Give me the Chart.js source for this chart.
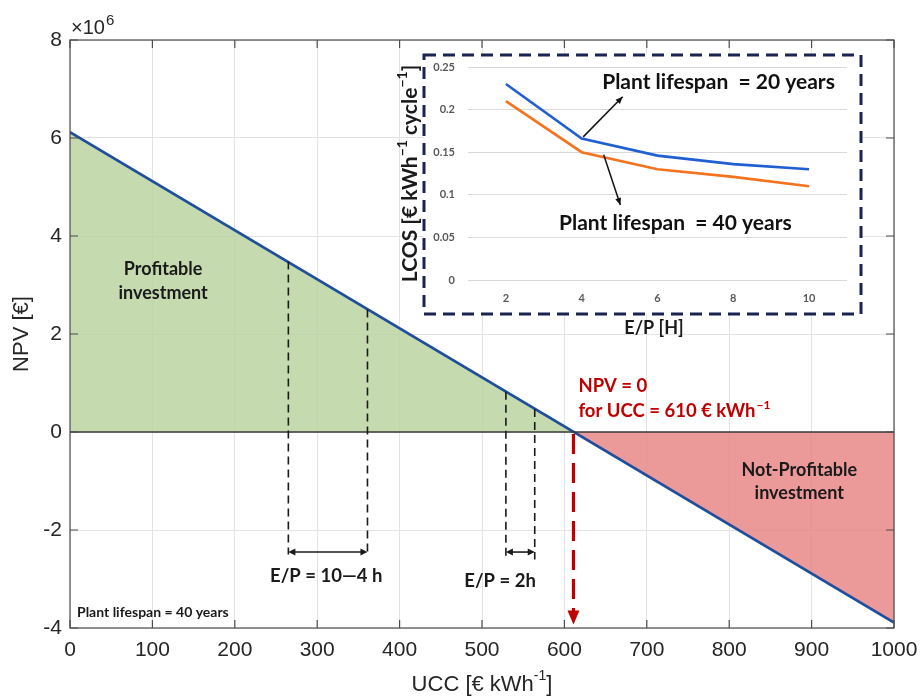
<!DOCTYPE html>
<html>
<head>
<meta charset="utf-8">
<script src="https://cdn.jsdelivr.net/npm/chart.js@4.4.0/dist/chart.umd.min.js"></script>
<style>
  body { margin: 0; background: #fff; }
  #wrap { position: relative; width: 921px; height: 700px; }
  #main { position: absolute; left: 0; top: 0; }
  #inset { position: absolute; left: 395px; top: 50px; }
</style>
</head>
<body>
<div id="wrap">
  <canvas id="main" width="921" height="700"></canvas>
  <canvas id="inset" width="475" height="290"></canvas>
</div>
<script>
// Main chart: NPV (x10^6 €) against UCC (€/kWh)
var ucc = [0, 1000];
var npv = [6.12, -3.89];
var xTicksMain = [0, 100, 200, 300, 400, 500, 600, 700, 800, 900, 1000];
var yTicksMain = [-4, -2, 0, 2, 4, 6, 8];

// dashed guides for the E/P ranges
var guideUcc = [265, 361, 529, 564];
var guideTop = [3.48, 2.50, 0.82, 0.47];
var guideBottom = [-2.5, -2.5, -2.6, -2.6];
var arrowNpv = -2.45;
var breakEvenUcc = 611;
var breakEvenArrowEnd = -3.93;

// Inset: LCOS (€/kWh/cycle) against E/P (h)
var epLabels = ['2', '4', '6', '8', '10'];
var lcos20 = [0.23, 0.166, 0.146, 0.136, 0.13];
var lcos40 = [0.21, 0.15, 0.13, 0.121, 0.11];
var yTicksInset = [0, 0.05, 0.1, 0.15, 0.2, 0.25];

var ANN = 'Lato, "Open Sans", sans-serif';
var AX = '"Liberation Sans", Arial, sans-serif';

// text with superscript pieces, segs = [[text, isSup], ...]
function richText(c, segs, x, y, size, family, weight, color) {
  var w = 0, i;
  for (i = 0; i < segs.length; i++) {
    c.font = weight + ' ' + (segs[i][1] ? Math.round(size * 0.65) : size) + 'px ' + family;
    w += c.measureText(segs[i][0]).width;
  }
  var cx = x - w / 2;
  c.fillStyle = color;
  c.textAlign = 'left';
  c.textBaseline = 'middle';
  for (i = 0; i < segs.length; i++) {
    var sup = segs[i][1];
    c.font = weight + ' ' + (sup ? Math.round(size * 0.65) : size) + 'px ' + family;
    c.fillText(segs[i][0], cx, sup ? y - size * 0.38 : y);
    cx += c.measureText(segs[i][0]).width;
  }
}

function arrowHead(c, x1, y1, x2, y2, len, wid) {
  var ang = Math.atan2(y2 - y1, x2 - x1);
  c.beginPath();
  c.moveTo(x2, y2);
  c.lineTo(x2 - len * Math.cos(ang) + wid * Math.sin(ang), y2 - len * Math.sin(ang) - wid * Math.cos(ang));
  c.lineTo(x2 - len * Math.cos(ang) - wid * Math.sin(ang), y2 - len * Math.sin(ang) + wid * Math.cos(ang));
  c.closePath();
  c.fill();
}

var mainDeco = {
  id: 'mainDeco',
  afterDatasetsDraw: function(chart) {
    var c = chart.ctx, a = chart.chartArea, xs = chart.scales.x, ys = chart.scales.y;
    var i, px, y0 = ys.getPixelForValue(0);
    c.save();

    // zero line
    c.strokeStyle = '#3a3a3a';
    c.lineWidth = 1.3;
    c.beginPath(); c.moveTo(a.left, y0); c.lineTo(a.right, y0); c.stroke();

    // dashed guides
    c.strokeStyle = '#1a1a1a';
    c.lineWidth = 1.6;
    c.setLineDash([8, 5]);
    for (i = 0; i < guideUcc.length; i++) {
      px = xs.getPixelForValue(guideUcc[i]);
      c.beginPath();
      c.moveTo(px, ys.getPixelForValue(guideTop[i]));
      c.lineTo(px, ys.getPixelForValue(guideBottom[i]));
      c.stroke();
    }
    c.setLineDash([]);

    // double arrows between guide pairs
    c.fillStyle = '#1a1a1a';
    c.lineWidth = 1.6;
    var ya = ys.getPixelForValue(arrowNpv);
    for (i = 0; i < guideUcc.length; i += 2) {
      var xa = xs.getPixelForValue(guideUcc[i]), xb = xs.getPixelForValue(guideUcc[i + 1]);
      c.beginPath(); c.moveTo(xa + 4, ya); c.lineTo(xb - 4, ya); c.stroke();
      arrowHead(c, xb, ya, xa, ya, 7, 3.5);
      arrowHead(c, xa, ya, xb, ya, 7, 3.5);
    }

    // break-even arrow
    var xr = xs.getPixelForValue(breakEvenUcc), yr = ys.getPixelForValue(breakEvenArrowEnd);
    c.strokeStyle = '#c00000';
    c.fillStyle = '#c00000';
    c.lineWidth = 3.2;
    c.setLineDash([20, 9]);
    c.beginPath(); c.moveTo(xr, y0 + 2); c.lineTo(xr, yr - 12); c.stroke();
    c.setLineDash([]);
    arrowHead(c, xr, y0, xr, yr, 14, 6);

    // annotation texts
    c.textAlign = 'center';
    c.textBaseline = 'middle';
    c.fillStyle = '#1a1a1a';
    c.font = 'bold 18px ' + ANN;
    c.fillText('Profitable', xs.getPixelForValue(113), ys.getPixelForValue(3.33));
    c.fillText('investment', xs.getPixelForValue(113), ys.getPixelForValue(2.84));
    c.fillText('Not-Profitable', xs.getPixelForValue(885), ys.getPixelForValue(-0.78));
    c.fillText('investment', xs.getPixelForValue(885), ys.getPixelForValue(-1.24));
    c.font = 'bold 18.5px ' + ANN;
    c.fillText('E/P = 10\u20144 h', xs.getPixelForValue(311), ys.getPixelForValue(-2.94));
    c.fillText('E/P = 2h', xs.getPixelForValue(522), ys.getPixelForValue(-3.04));
    c.textAlign = 'left';
    c.font = 'bold 14px ' + ANN;
    c.fillText('Plant lifespan = 40 years', a.left + 7, ys.getPixelForValue(-3.68));

    c.fillStyle = '#c00000';
    c.font = 'bold 18.5px ' + ANN;
    c.fillText('NPV = 0', xs.getPixelForValue(617), ys.getPixelForValue(0.94));
    var tx = xs.getPixelForValue(617), ty = ys.getPixelForValue(0.43);
    var base = 'for UCC = 610 \u20ac kWh';
    c.fillText(base, tx, ty);
    var bw = c.measureText(base).width;
    c.font = 'bold 12px ' + ANN;
    c.fillText('\u22121', tx + bw + 1, ty - 6);

    // axes box with inward ticks
    c.strokeStyle = '#4d4d4d';
    c.lineWidth = 1.2;
    c.strokeRect(a.left, a.top, a.right - a.left, a.bottom - a.top);
    c.beginPath();
    for (i = 0; i < xTicksMain.length; i++) {
      px = xs.getPixelForValue(xTicksMain[i]);
      c.moveTo(px, a.bottom); c.lineTo(px, a.bottom - 8);
      c.moveTo(px, a.top); c.lineTo(px, a.top + 8);
    }
    for (i = 0; i < yTicksMain.length; i++) {
      px = ys.getPixelForValue(yTicksMain[i]);
      c.moveTo(a.left, px); c.lineTo(a.left + 8, px);
      c.moveTo(a.right, px); c.lineTo(a.right - 8, px);
    }
    c.stroke();

    // axis titles and exponent
    richText(c, [['UCC [\u20ac kWh', false], ['-1', true], [']', false]], (a.left + a.right) / 2, 685, 22, AX, 'normal', '#262626');
    c.save();
    c.translate(22, (a.top + a.bottom) / 2);
    c.rotate(-Math.PI / 2);
    richText(c, [['NPV [\u20ac]', false]], 0, 0, 22, AX, 'normal', '#262626');
    c.restore();
    c.fillStyle = '#262626';
    c.textAlign = 'left';
    c.textBaseline = 'alphabetic';
    c.font = '20px ' + AX;
    c.fillText('\u00d710', a.left + 1, 34);
    var ew = c.measureText('\u00d710').width;
    c.font = '15px ' + AX;
    c.fillText('6', a.left + 2 + ew, 25);
    c.restore();
  }
};

new Chart(document.getElementById('main'), {
  type: 'line',
  data: {
    datasets: [{
      data: ucc.map(function(u, i) { return { x: u, y: npv[i] }; }),
      borderColor: '#1f4e9c',
      borderWidth: 2.6,
      pointRadius: 0,
      fill: { target: 'origin', above: 'rgba(182,209,155,0.8)', below: 'rgba(230,128,128,0.8)' }
    }]
  },
  options: {
    responsive: false,
    animation: false,
    layout: { padding: { top: 40, right: 27, left: 0, bottom: 0 } },
    plugins: { legend: { display: false }, tooltip: { enabled: false } },
    scales: {
      x: {
        type: 'linear', min: 0, max: 1000,
        afterBuildTicks: function(s) { s.ticks = xTicksMain.map(function(v) { return { value: v }; }); },
        afterFit: function(s) { s.height = 72; s.paddingLeft = 0; s.paddingRight = 0; },
        grid: { color: '#e3e3e3', drawTicks: false },
        border: { display: false },
        ticks: { padding: 10, color: '#262626', font: { family: AX, size: 21 }, callback: function(v) { return String(v); } }
      },
      y: {
        type: 'linear', min: -4, max: 8,
        afterBuildTicks: function(s) { s.ticks = yTicksMain.map(function(v) { return { value: v }; }); },
        afterFit: function(s) { s.width = 70; s.paddingTop = 0; s.paddingBottom = 0; },
        grid: { color: '#e3e3e3', drawTicks: false },
        border: { display: false },
        ticks: { padding: 8, color: '#262626', font: { family: AX, size: 21 }, callback: function(v) { return String(v); } }
      }
    }
  },
  plugins: [mainDeco]
});

// inset frame, relative to the inset canvas
var frame = { left: 29, top: 5, right: 466, bottom: 264 };

var insetDeco = {
  id: 'insetDeco',
  beforeDraw: function(chart) {
    var c = chart.ctx;
    c.save();
    c.fillStyle = '#ffffff';
    c.fillRect(frame.left, frame.top, frame.right - frame.left, frame.bottom - frame.top);
    c.restore();
  },
  afterDraw: function(chart) {
    var c = chart.ctx, a = chart.chartArea, xs = chart.scales.x, ys = chart.scales.y;
    c.save();
    c.strokeStyle = '#1b2350';
    c.lineWidth = 3;
    c.setLineDash([12, 7]);
    c.strokeRect(frame.left, frame.top, frame.right - frame.left, frame.bottom - frame.top);
    c.setLineDash([]);

    // series labels and pointers
    c.fillStyle = '#111';
    c.strokeStyle = '#111';
    c.lineWidth = 1.5;
    c.font = 'bold 21px ' + ANN;
    c.textAlign = 'left';
    c.textBaseline = 'middle';
    c.fillText('Plant lifespan  = 20 years', xs.getPixelForValue(1.27), ys.getPixelForValue(0.232));
    c.fillText('Plant lifespan  = 40 years', xs.getPixelForValue(0.70), ys.getPixelForValue(0.067));
    var p = [[1.02, 0.168, 1.54, 0.215], [1.29, 0.147, 1.51, 0.088]];
    for (var i = 0; i < p.length; i++) {
      var x1 = xs.getPixelForValue(p[i][0]), y1 = ys.getPixelForValue(p[i][1]);
      var x2 = xs.getPixelForValue(p[i][2]), y2 = ys.getPixelForValue(p[i][3]);
      c.beginPath(); c.moveTo(x1, y1); c.lineTo(x2, y2); c.stroke();
      arrowHead(c, x1, y1, x2, y2, 7, 3);
    }

    // axis titles
    richText(c, [['E/P [H]', false]], 259, 278, 18, ANN, 'bold', '#1a1a1a');
    c.translate(15, (a.top + a.bottom) / 2);
    c.rotate(-Math.PI / 2);
    richText(c, [['LCOS [\u20ac kWh', false], ['\u22121', true], [' cycle', false], ['\u22121', true], [']', false]], 0, 0, 21, ANN, 'bold', '#1a1a1a');
    c.restore();
  }
};

new Chart(document.getElementById('inset'), {
  type: 'line',
  data: {
    labels: epLabels,
    datasets: [
      { data: lcos20, borderColor: '#1f5fd1', borderWidth: 2.6, pointRadius: 0, tension: 0 },
      { data: lcos40, borderColor: '#f5731f', borderWidth: 2.6, pointRadius: 0, tension: 0 }
    ]
  },
  options: {
    responsive: false,
    animation: false,
    layout: { padding: { top: 17, right: 23, left: 0, bottom: 0 } },
    plugins: { legend: { display: false }, tooltip: { enabled: false } },
    scales: {
      x: {
        offset: true,
        afterFit: function(s) { s.height = 60; s.paddingLeft = 0; s.paddingRight = 0; },
        grid: { display: false, drawTicks: false },
        border: { display: false },
        ticks: { padding: 12, color: '#595959', font: { family: ANN, size: 11, weight: 'bold' } }
      },
      y: {
        min: 0, max: 0.25,
        afterBuildTicks: function(s) { s.ticks = yTicksInset.map(function(v) { return { value: v }; }); },
        afterFit: function(s) { s.width = 73; s.paddingTop = 0; s.paddingBottom = 0; },
        grid: { color: '#d9d9d9', drawTicks: false },
        border: { display: false },
        ticks: { padding: 13, color: '#595959', font: { family: ANN, size: 11, weight: 'bold' },
          callback: function(v) { return String(parseFloat(v.toFixed(2))); } }
      }
    }
  },
  plugins: [insetDeco]
});
</script>
</body>
</html>
